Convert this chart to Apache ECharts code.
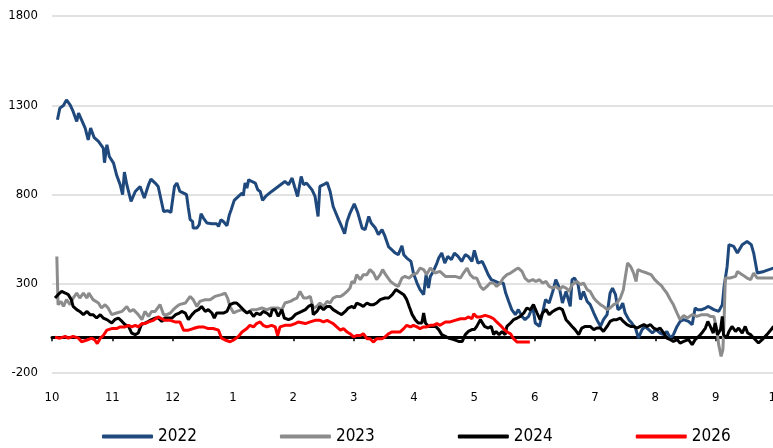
<!DOCTYPE html>
<html>
<head>
<meta charset="utf-8">
<script src="https://cdn.jsdelivr.net/npm/echarts@6/dist/echarts.min.js"></script>
<style>html,body{margin:0;padding:0;background:#fff}#c{width:773px;height:448px}</style>
</head>
<body>
<div id="c"></div>
<script>
// x = months elapsed since 1 Oct (0 = Oct, 12 = next Oct)
const monthLabels = ['10','11','12','1','2','3','4','5','6','7','8','9','10'];
const yTicks = [-200, 300, 800, 1300, 1800];
const seriesNames = ['2022','2023','2024','2026'];

const s2022 = [[0.09,1219],[0.13,1284],[0.19,1299],[0.24,1330],[0.30,1302],[0.35,1265],[0.41,1209],[0.44,1256],[0.49,1218],[0.55,1172],[0.60,1106],[0.64,1172],[0.70,1118],[0.77,1097],[0.85,1060],[0.87,978],[0.91,1079],[0.95,1013],[1.02,976],[1.07,910],[1.13,855],[1.17,799],[1.20,926],[1.24,855],[1.31,761],[1.38,817],[1.46,845],[1.53,780],[1.60,855],[1.64,886],[1.71,864],[1.76,845],[1.85,705],[1.92,709],[1.97,699],[2.03,845],[2.07,864],[2.12,817],[2.18,808],[2.23,799],[2.26,724],[2.29,659],[2.33,649],[2.34,612],[2.40,612],[2.44,631],[2.47,692],[2.51,668],[2.57,640],[2.65,636],[2.73,636],[2.76,621],[2.80,659],[2.84,649],[2.90,625],[2.94,687],[2.97,715],[3.02,767],[3.09,789],[3.15,808],[3.17,793],[3.20,864],[3.23,836],[3.26,883],[3.31,873],[3.37,864],[3.41,826],[3.45,817],[3.49,767],[3.54,789],[3.64,817],[3.75,845],[3.86,873],[3.92,855],[3.98,892],[4.02,845],[4.07,789],[4.13,901],[4.17,855],[4.22,864],[4.25,855],[4.31,826],[4.36,789],[4.41,677],[4.44,845],[4.50,855],[4.56,867],[4.61,817],[4.66,733],[4.75,659],[4.80,621],[4.85,580],[4.89,649],[4.94,696],[5.01,748],[5.07,696],[5.14,612],[5.19,603],[5.25,677],[5.29,640],[5.36,612],[5.41,575],[5.47,603],[5.52,565],[5.58,506],[5.63,491],[5.69,472],[5.74,463],[5.80,513],[5.83,463],[5.88,444],[5.95,425],[5.99,360],[6.05,304],[6.10,267],[6.16,239],[6.20,351],[6.24,276],[6.27,341],[6.32,369],[6.38,416],[6.41,444],[6.46,472],[6.51,416],[6.56,453],[6.62,435],[6.67,472],[6.73,453],[6.79,425],[6.85,463],[6.90,453],[6.96,425],[7.00,487],[7.06,416],[7.13,425],[7.17,397],[7.23,351],[7.28,323],[7.35,313],[7.41,304],[7.48,304],[7.52,248],[7.57,201],[7.62,155],[7.68,127],[7.73,155],[7.79,117],[7.84,99],[7.90,117],[7.97,173],[8.01,80],[8.08,61],[8.13,136],[8.18,211],[8.24,192],[8.30,257],[8.35,323],[8.41,276],[8.46,192],[8.52,257],[8.55,267],[8.59,173],[8.62,323],[8.66,332],[8.72,295],[8.76,211],[8.81,257],[8.87,201],[8.92,183],[8.98,136],[9.03,99],[9.09,61],[9.14,99],[9.20,127],[9.25,248],[9.29,276],[9.34,239],[9.38,155],[9.42,164],[9.46,192],[9.50,136],[9.56,99],[9.61,80],[9.67,52],[9.72,-4],[9.78,43],[9.83,61],[9.89,43],[9.95,24],[10.01,43],[10.08,24],[10.14,15],[10.19,33],[10.25,-4],[10.30,15],[10.36,61],[10.41,89],[10.47,99],[10.55,89],[10.61,71],[10.66,164],[10.70,155],[10.77,155],[10.83,164],[10.88,173],[10.97,155],[11.05,145],[11.11,183],[11.14,285],[11.19,397],[11.22,519],[11.30,509],[11.36,472],[11.44,519],[11.52,537],[11.59,519],[11.63,472],[11.69,360],[11.80,369],[11.96,388]];

const s2023 = [[0.08,453],[0.10,183],[0.15,201],[0.19,173],[0.24,211],[0.30,183],[0.35,220],[0.41,248],[0.46,220],[0.52,248],[0.58,220],[0.61,248],[0.68,211],[0.77,192],[0.82,164],[0.88,183],[0.93,164],[0.99,127],[1.07,136],[1.16,145],[1.24,173],[1.29,145],[1.35,155],[1.43,127],[1.49,99],[1.54,145],[1.60,117],[1.65,145],[1.71,145],[1.79,183],[1.85,127],[1.90,127],[1.96,136],[2.01,155],[2.07,173],[2.11,183],[2.21,192],[2.29,229],[2.34,211],[2.40,173],[2.45,201],[2.54,211],[2.62,211],[2.70,229],[2.81,239],[2.87,248],[2.91,220],[2.95,173],[3.01,136],[3.06,145],[3.15,155],[3.23,136],[3.31,155],[3.39,155],[3.48,164],[3.56,155],[3.64,164],[3.75,164],[3.81,155],[3.86,192],[3.95,201],[4.00,211],[4.06,220],[4.11,257],[4.17,220],[4.22,220],[4.28,229],[4.33,164],[4.39,173],[4.44,192],[4.50,173],[4.56,201],[4.61,192],[4.66,220],[4.72,229],[4.78,229],[4.83,239],[4.89,257],[4.94,276],[4.97,313],[5.01,304],[5.05,351],[5.11,323],[5.16,351],[5.22,351],[5.27,379],[5.33,360],[5.38,323],[5.44,351],[5.48,379],[5.53,351],[5.61,313],[5.68,295],[5.74,285],[5.80,332],[5.85,341],[5.92,332],[5.98,351],[6.05,360],[6.10,388],[6.16,379],[6.21,351],[6.27,388],[6.35,360],[6.43,369],[6.52,341],[6.60,341],[6.68,341],[6.77,332],[6.82,360],[6.88,388],[6.93,351],[6.99,332],[7.04,332],[7.10,285],[7.15,267],[7.21,285],[7.26,304],[7.32,304],[7.37,285],[7.43,304],[7.48,332],[7.54,351],[7.60,360],[7.68,379],[7.73,388],[7.79,369],[7.84,332],[7.90,313],[7.97,323],[8.02,313],[8.08,323],[8.13,304],[8.19,313],[8.24,285],[8.30,276],[8.35,285],[8.41,267],[8.46,285],[8.52,276],[8.57,257],[8.62,295],[8.70,313],[8.76,295],[8.81,304],[8.87,267],[8.92,257],[8.98,220],[9.03,201],[9.09,183],[9.14,173],[9.20,155],[9.25,164],[9.31,183],[9.36,192],[9.42,220],[9.47,267],[9.50,332],[9.54,416],[9.59,397],[9.64,360],[9.68,313],[9.71,379],[9.78,369],[9.86,360],[9.93,351],[9.99,323],[10.05,304],[10.10,290],[10.14,270],[10.19,248],[10.25,210],[10.30,182],[10.36,136],[10.41,99],[10.47,122],[10.53,108],[10.61,127],[10.69,117],[10.77,127],[10.86,127],[10.91,117],[10.97,117],[11.02,43],[11.05,-41],[11.09,-107],[11.12,-69],[11.14,99],[11.16,332],[11.24,332],[11.33,341],[11.36,369],[11.44,351],[11.52,332],[11.58,323],[11.63,360],[11.69,332],[11.96,332]];

const s2024 = [[0.05,220],[0.10,239],[0.16,257],[0.22,248],[0.27,239],[0.32,211],[0.35,173],[0.41,155],[0.46,145],[0.52,127],[0.58,145],[0.63,127],[0.68,127],[0.74,108],[0.80,127],[0.85,108],[0.91,99],[0.99,80],[1.04,99],[1.10,108],[1.16,89],[1.21,71],[1.27,61],[1.32,24],[1.38,15],[1.43,24],[1.48,71],[1.54,80],[1.60,89],[1.65,99],[1.71,108],[1.76,108],[1.82,89],[1.87,108],[1.93,108],[1.99,108],[2.05,127],[2.11,136],[2.15,145],[2.21,136],[2.26,99],[2.32,127],[2.37,145],[2.43,155],[2.48,173],[2.54,145],[2.59,155],[2.65,136],[2.69,108],[2.73,136],[2.79,136],[2.84,136],[2.90,145],[2.95,183],[3.01,192],[3.06,192],[3.12,173],[3.17,155],[3.23,136],[3.28,145],[3.34,117],[3.39,136],[3.45,127],[3.50,145],[3.56,136],[3.62,117],[3.65,155],[3.70,155],[3.75,117],[3.81,155],[3.85,108],[3.92,99],[3.98,108],[4.03,127],[4.08,136],[4.14,145],[4.20,155],[4.25,173],[4.31,183],[4.33,127],[4.39,145],[4.44,173],[4.50,155],[4.56,173],[4.61,173],[4.66,155],[4.75,136],[4.80,127],[4.86,145],[4.91,164],[4.97,173],[5.01,164],[5.05,192],[5.11,183],[5.16,173],[5.22,192],[5.27,183],[5.33,183],[5.38,192],[5.44,211],[5.52,220],[5.58,220],[5.64,239],[5.70,267],[5.75,257],[5.83,239],[5.88,211],[5.92,173],[5.97,127],[6.02,99],[6.07,80],[6.13,80],[6.16,136],[6.19,80],[6.24,61],[6.30,61],[6.36,61],[6.41,43],[6.46,15],[6.52,5],[6.57,-4],[6.66,-13],[6.74,-23],[6.80,-23],[6.85,15],[6.90,33],[6.96,43],[7.00,43],[7.04,61],[7.10,99],[7.13,89],[7.17,61],[7.23,52],[7.28,61],[7.32,15],[7.36,33],[7.41,15],[7.46,33],[7.51,15],[7.54,61],[7.60,80],[7.65,99],[7.71,108],[7.76,117],[7.82,136],[7.87,164],[7.93,155],[7.98,183],[8.04,136],[8.09,99],[8.13,136],[8.19,155],[8.24,127],[8.30,145],[8.35,155],[8.41,164],[8.46,155],[8.52,99],[8.57,80],[8.62,61],[8.67,43],[8.73,15],[8.78,52],[8.84,61],[8.92,61],[8.98,43],[9.03,52],[9.09,52],[9.14,33],[9.20,61],[9.25,89],[9.31,99],[9.36,99],[9.42,108],[9.47,89],[9.53,71],[9.59,61],[9.64,61],[9.70,52],[9.75,61],[9.81,71],[9.86,61],[9.92,71],[9.97,52],[10.03,43],[10.08,52],[10.14,24],[10.19,-4],[10.25,-13],[10.30,-23],[10.36,-13],[10.41,-32],[10.47,-23],[10.50,-23],[10.55,-13],[10.61,-41],[10.66,-13],[10.72,5],[10.77,24],[10.83,52],[10.87,89],[10.91,61],[10.96,24],[10.99,80],[11.03,15],[11.08,43],[11.11,117],[11.13,15],[11.18,-4],[11.22,33],[11.27,61],[11.33,33],[11.38,52],[11.44,24],[11.49,61],[11.53,24],[11.58,15],[11.63,-4],[11.71,-32],[11.77,-13],[11.85,15],[11.94,52],[11.96,61]];

const s2026 = [[0.05,0],[0.13,-5],[0.22,5],[0.27,-5],[0.35,5],[0.44,-5],[0.49,-25],[0.58,-15],[0.66,-5],[0.71,-15],[0.75,-35],[0.80,-5],[0.85,10],[0.91,40],[0.99,49],[1.07,49],[1.13,58],[1.21,58],[1.27,67],[1.32,58],[1.38,67],[1.43,58],[1.49,77],[1.54,77],[1.60,86],[1.68,95],[1.76,114],[1.82,104],[1.87,95],[1.96,95],[2.04,86],[2.12,86],[2.18,40],[2.26,40],[2.34,49],[2.43,58],[2.51,58],[2.59,49],[2.67,49],[2.76,40],[2.81,-5],[2.87,-15],[2.95,-25],[3.01,-15],[3.09,5],[3.15,30],[3.23,49],[3.28,67],[3.34,58],[3.39,77],[3.45,86],[3.50,67],[3.56,58],[3.64,67],[3.70,58],[3.74,10],[3.78,58],[3.86,67],[3.95,67],[4.03,77],[4.08,86],[4.20,77],[4.28,86],[4.36,95],[4.44,95],[4.50,86],[4.56,95],[4.61,86],[4.66,77],[4.72,58],[4.78,40],[4.83,49],[4.89,30],[4.94,20],[5.00,2],[5.05,10],[5.11,10],[5.16,20],[5.22,-8],[5.27,-8],[5.33,-27],[5.38,-8],[5.47,-8],[5.52,2],[5.58,20],[5.63,30],[5.69,30],[5.77,30],[5.83,49],[5.88,67],[5.94,58],[5.99,67],[6.05,58],[6.10,49],[6.16,58],[6.21,58],[6.27,67],[6.32,67],[6.38,77],[6.43,67],[6.52,86],[6.60,86],[6.68,95],[6.77,104],[6.85,104],[6.90,114],[6.96,104],[6.99,132],[7.04,114],[7.10,114],[7.18,123],[7.26,114],[7.32,104],[7.37,86],[7.43,67],[7.48,49],[7.54,30],[7.60,20],[7.65,-8],[7.71,-27],[7.79,-27],[7.87,-27],[7.92,-27]];

const colors = ['#1F497D', '#8C8C8C', '#000000', '#FF0000'];
const FONT = "'Liberation Sans Narrow', 'DejaVu Sans Condensed', 'Liberation Sans', sans-serif";

const chart = echarts.init(document.getElementById('c'), null, {renderer: 'canvas'});
const allData = [s2022, s2023, s2024, s2026];
chart.setOption({
  animation: false,
  color: colors,
  grid: {left: 52, right: -3, top: 16, bottom: 75, containLabel: false, outerBoundsMode: 'none'},
  legend: {
    data: seriesNames,
    left: 102, top: 428, padding: 0,
    itemWidth: 51, itemHeight: 4, itemGap: 83,
    icon: 'roundRect',
    textStyle: {fontFamily: FONT, fontSize: 17, color: '#000'}
  },
  xAxis: [{
    type: 'value', min: 0, max: 12, interval: 1,
    axisLine: {show: false, onZero: false},
    axisTick: {show: false},
    splitLine: {show: false},
    axisLabel: {
      margin: 18, fontFamily: FONT, fontSize: 13, color: '#000',
      showMinLabel: true, showMaxLabel: true,
      formatter: v => monthLabels[Math.round(v)]
    }
  }, {
    type: 'value', min: 0, max: 12, interval: 1, position: 'bottom',
    axisLine: {show: true, onZero: true, lineStyle: {color: '#000', width: 3}},
    axisTick: {show: true, length: 4, lineStyle: {color: '#000', width: 1.5}},
    axisLabel: {show: false},
    splitLine: {show: false}
  }],
  yAxis: {
    type: 'value', min: yTicks[0], max: yTicks[yTicks.length - 1], interval: yTicks[1] - yTicks[0],
    axisLine: {show: false}, axisTick: {show: false},
    splitLine: {show: true, lineStyle: {color: '#D9D9D9', width: 1.5}},
    axisLabel: {margin: 14, fontFamily: FONT, fontSize: 13, color: '#000', formatter: v => String(v)}
  },
  series: seriesNames.map((n, i) => ({
    name: n, type: 'line', xAxisIndex: 0, data: allData[i],
    showSymbol: false, symbol: 'none', smooth: false,
    lineStyle: {width: 3, color: colors[i]},
    itemStyle: {color: colors[i]},
    z: 2 + i
  }))
});
</script>
</body>
</html>
